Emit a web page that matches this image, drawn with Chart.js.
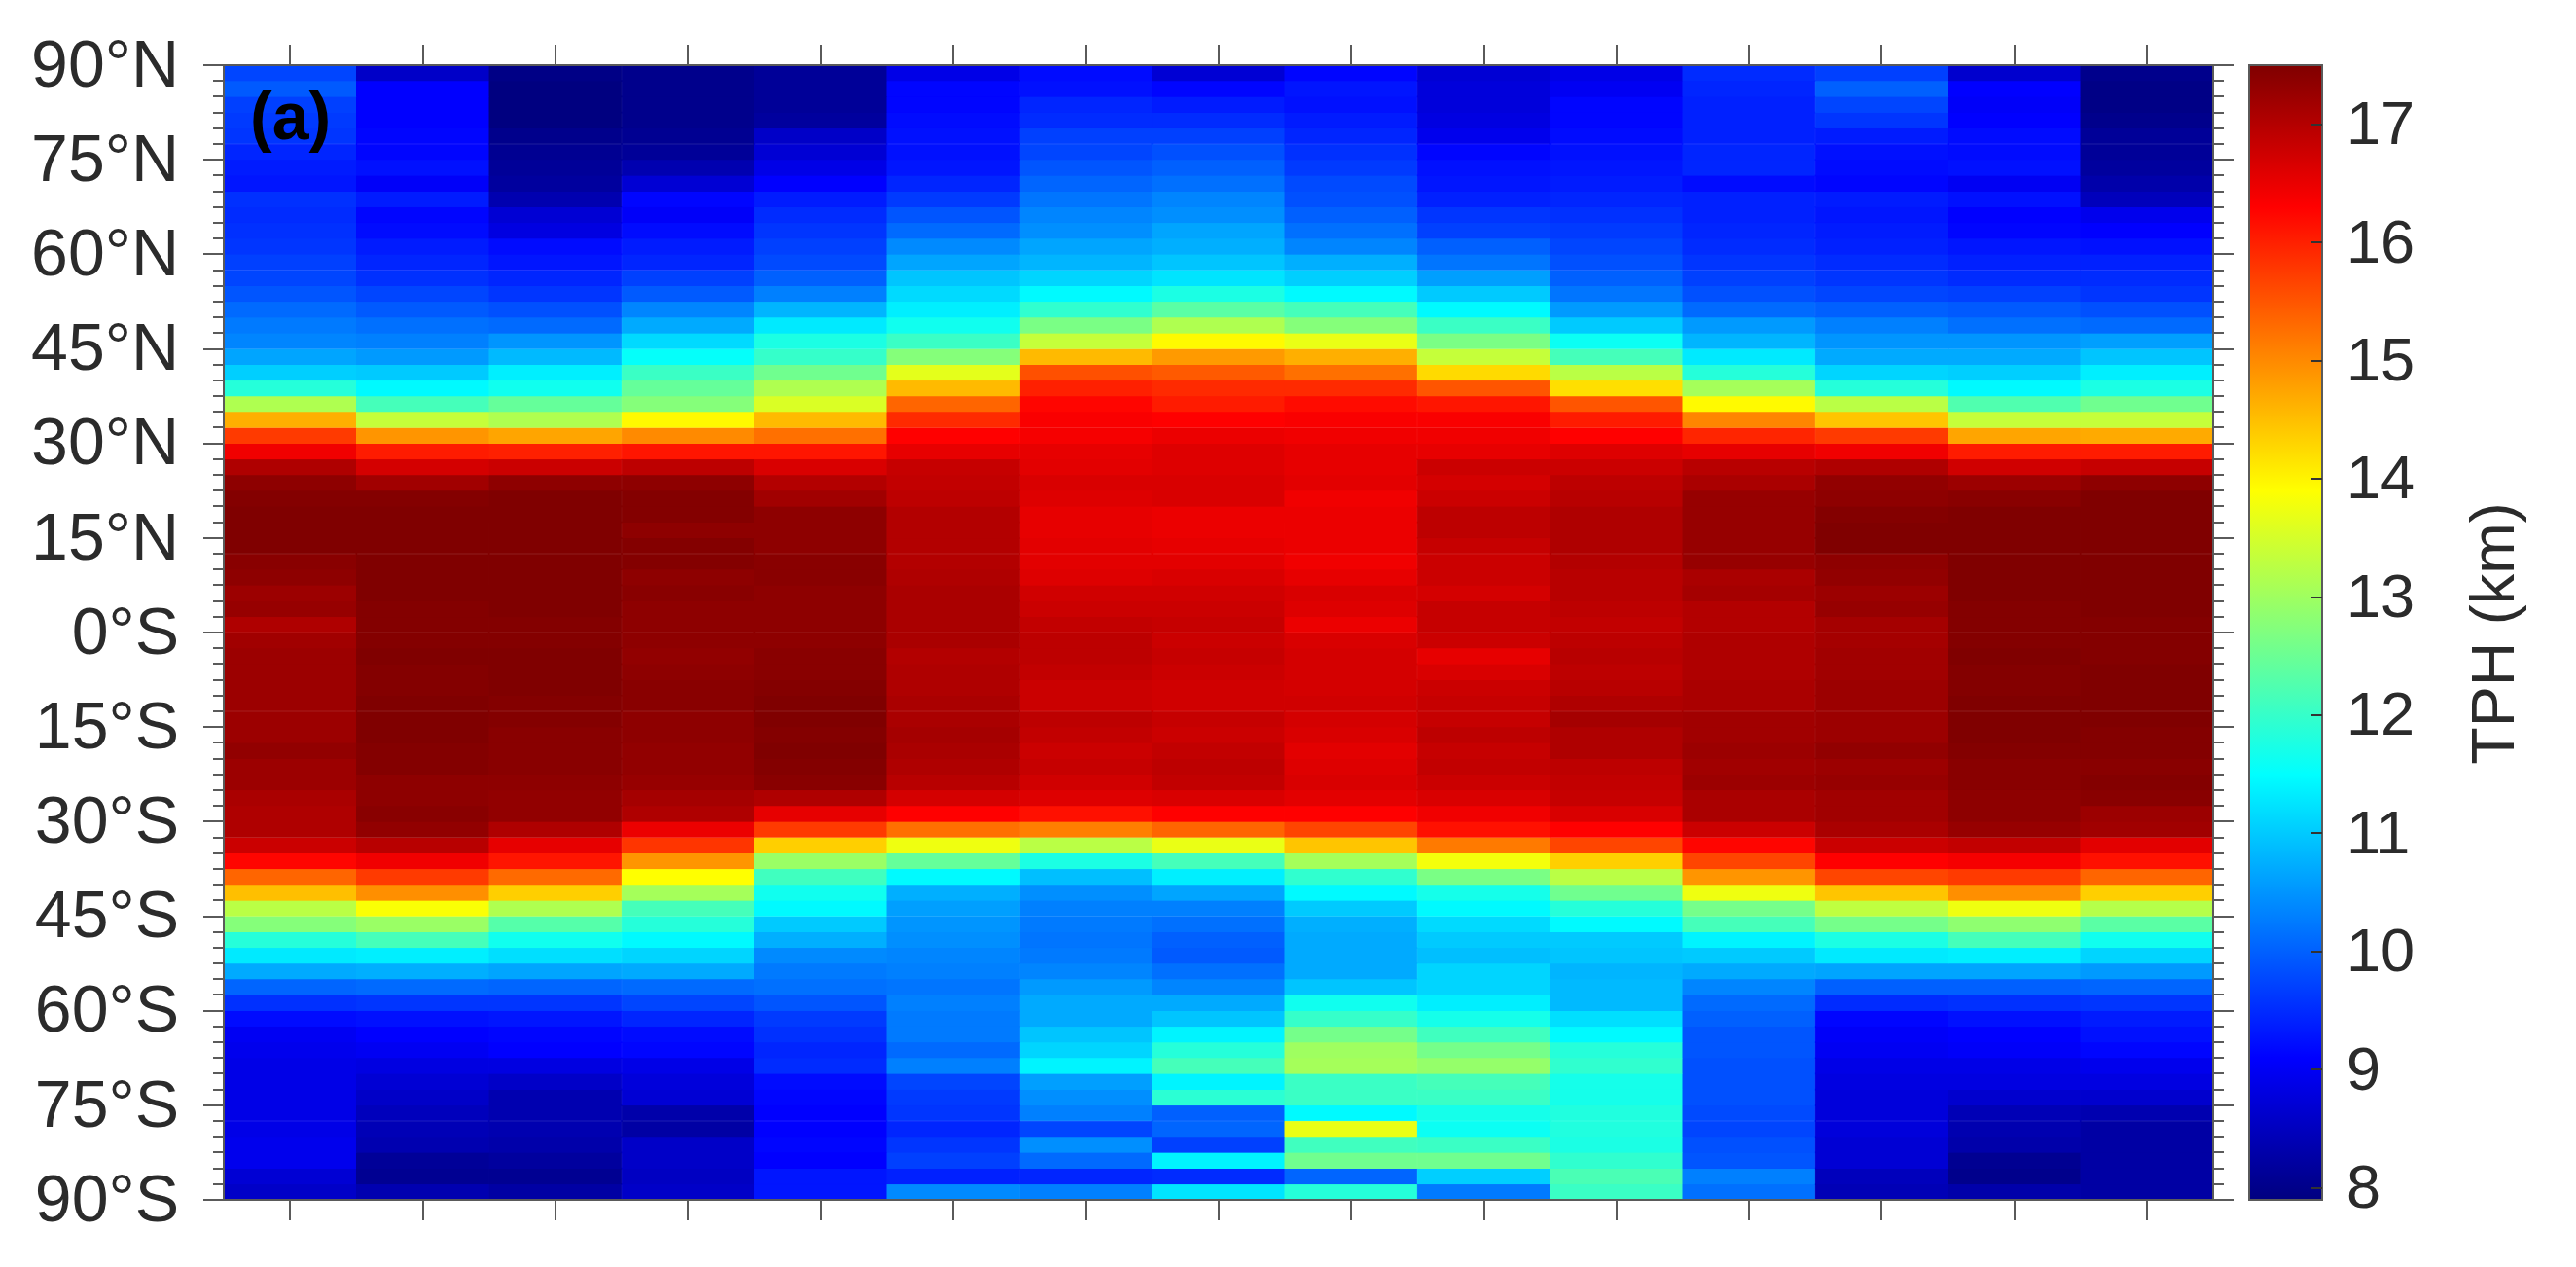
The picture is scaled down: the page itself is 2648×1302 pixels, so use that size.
<!DOCTYPE html>
<html>
<head>
<meta charset="utf-8">
<style>
  html, body { margin: 0; background: #fff; }
  canvas { position: absolute; left: 0; top: 0; filter: blur(0.7px); }
</style>
<script src="https://cdn.jsdelivr.net/npm/chart.js@4"></script>
</head>
<body>
<canvas id="map" width="2648" height="1302"></canvas>
<canvas id="bar" width="2648" height="1302"></canvas>
<script>
const columns = ['1','2','3','4','5','6','7','8','9','10','11','12','13','14','15'];
const latTicks = [-90,-75,-60,-45,-30,-15,0,15,30,45,60,75,90];
const latLabels = ['90°S','75°S','60°S','45°S','30°S','15°S','0°S','15°N','30°N','45°N','60°N','75°N','90°N'];
const colorTicks = [8,9,10,11,12,13,14,15,16,17];
const colorTitle = 'TPH (km)';
const panelLabel = '(a)';
const colorMin = 7.9;
const colorMax = 17.5;

// tropopause height per column, rows from 90N down to 90S (2.5 deg each)
const col01 = [9.6,9.8,9.55,9.5,9.45,9.3,9.2,9.15,9.4,9.35,9.4,9.45,9.55,9.6,9.75,9.95,10.1,10.2,10.5,10.9,11.7,13,14.5,15.6,16.3,17,17.35,17.45,17.5,17.5,17.5,17.4,17.35,17.2,17.25,17,17.15,17.2,17.2,17.2,17.2,17.2,17.2,17.3,17.2,17.2,17.05,17,17,16.7,16.1,15.2,14.35,13.1,12.6,11.7,11.15,10.55,9.9,9.4,9.05,8.85,8.8,8.75,8.75,8.75,8.75,8.75,8.8,8.8,8.6,8.5];
const col02 = [8.5,8.95,8.95,8.95,9,9,9.1,8.9,9.2,9,9.05,9.2,9.3,9.4,9.6,9.8,10,10.15,10.4,10.85,11.3,12,13.2,14.75,15.9,16.6,17.15,17.45,17.5,17.5,17.5,17.5,17.5,17.5,17.45,17.45,17.45,17.5,17.45,17.45,17.5,17.5,17.5,17.45,17.45,17.35,17.35,17.4,17.3,16.9,16.3,15.6,14.8,13.7,12.8,12,11.2,10.6,9.95,9.45,9.1,8.95,8.85,8.7,8.6,8.5,8.4,8.35,8.3,8.1,8.05,8.3];
const col03 = [7.95,7.9,7.9,7.9,8,8.05,8.1,8.15,8.3,8.6,8.7,9.05,9.15,9.3,9.45,9.7,9.95,10.35,10.7,11.2,11.5,12.3,13,14.6,15.85,16.7,17.35,17.5,17.5,17.5,17.5,17.5,17.5,17.5,17.5,17.45,17.45,17.5,17.5,17.5,17.45,17.45,17.4,17.4,17.4,17.35,17.3,17.3,17,16.4,15.95,15.15,14.2,13,12.15,11.5,11.05,10.5,9.9,9.45,9.15,9,8.95,8.7,8.5,8.3,8.3,8.3,8.25,8.15,8.05,8.2];
const col04 = [8,8,8,8,8.05,8.1,8.3,8.6,9,8.9,9.05,9.2,9.3,9.55,9.8,10.2,10.55,11,11.4,11.9,12.3,12.6,13.8,14.85,15.95,16.85,17.35,17.45,17.45,17.35,17.45,17.45,17.35,17.4,17.35,17.35,17.35,17.3,17.35,17.4,17.4,17.35,17.35,17.3,17.3,17.25,17.1,17,16.35,15.65,14.75,13.75,12.9,12,11.7,11.3,10.95,10.55,9.95,9.6,9.3,9.05,9,8.75,8.65,8.6,8.25,8.2,8.5,8.5,8.45,8.5];
const col05 = [8.1,8.1,8.1,8.15,8.5,8.6,8.75,8.95,9.2,9.35,9.45,9.55,9.65,9.85,10.15,10.65,11.15,11.6,11.85,12.4,13,13.4,14.4,15.1,15.95,16.55,16.95,17.15,17.35,17.35,17.35,17.4,17.4,17.35,17.35,17.35,17.35,17.4,17.4,17.45,17.5,17.5,17.45,17.5,17.45,17.4,17,16.4,15.6,14.2,12.8,11.95,11.5,11.3,10.85,10.6,10.25,10.1,10,9.75,9.5,9.4,9.3,9.35,9.05,9,8.95,8.95,9,8.95,9.15,9.15];
const col06 = [8.75,9,9,9.05,9.1,9.1,9.15,9.3,9.5,9.75,9.95,10.25,10.5,10.8,11,11.2,11.5,11.9,12.6,13.5,14.4,15.2,15.75,16.15,16.4,16.75,16.8,16.85,16.95,16.95,16.95,16.95,17,17.05,17.05,17.05,17.05,16.95,17,17,17.05,17.05,17.1,17.05,17,16.9,16.6,16.15,15.1,13.6,12.3,11.3,10.6,10.45,10.35,10.3,10.2,10.15,10.05,10.15,10.1,10.1,9.95,10.15,9.6,9.5,9.45,9.3,9.45,9.55,9.25,10.25];
const col07 = [9.05,9.1,9.3,9.35,9.55,9.6,9.75,9.9,10.05,10.2,10.3,10.5,10.65,10.95,11.3,11.8,12.5,13.2,14.4,15.4,15.85,16.1,16.2,16.25,16.4,16.45,16.55,16.5,16.4,16.4,16.45,16.45,16.5,16.65,16.7,16.8,16.85,16.85,16.8,16.7,16.7,16.85,16.8,16.7,16.75,16.65,16.5,16,14.95,13.1,11.6,10.75,10.3,10.15,10.1,10.05,10.1,10.2,10.4,10.55,10.55,10.8,10.95,11.25,10.45,10.3,10.15,9.6,10.3,9.95,9.3,10.15];
const col08 = [8.6,9,9.2,9.35,9.55,9.7,9.85,10,10.2,10.3,10.5,10.6,10.8,11.1,11.6,12.2,13,13.8,14.7,15.3,15.75,15.9,16.15,16.35,16.5,16.5,16.55,16.55,16.35,16.35,16.4,16.45,16.55,16.65,16.7,16.75,16.7,16.75,16.7,16.65,16.65,16.75,16.7,16.8,16.85,16.8,16.55,16.15,15.2,13.55,12,11.2,10.5,10.15,10,9.85,9.8,10,10.2,10.55,10.8,11.25,11.7,12,11.25,11.75,9.85,9.9,9.55,11.25,9.35,11.1];
const col09 = [9,9.15,9.1,9.2,9.3,9.4,9.5,9.65,9.7,9.85,10,10.2,10.6,10.9,11.3,12,12.6,13.55,14.5,15.1,15.75,16.05,16.2,16.3,16.4,16.4,16.45,16.3,16.35,16.35,16.35,16.3,16.4,16.55,16.5,16.35,16.55,16.6,16.6,16.6,16.65,16.6,16.55,16.45,16.5,16.55,16.45,16.15,15.5,14.3,12.9,11.8,11.3,10.85,10.6,10.55,10.55,10.55,10.8,11.5,11.85,12.45,12.85,12.9,11.9,11.9,11.3,13.55,11.95,12.4,9.9,11.7];
const col10 = [8.6,8.65,8.65,8.7,8.8,9,9.1,9.15,9.25,9.45,9.55,9.85,10.05,10.45,10.85,11.3,11.9,12.5,13.2,14.1,15.35,15.95,16.2,16.3,16.4,16.7,16.6,16.7,16.85,16.85,16.75,16.7,16.7,16.6,16.75,16.75,16.7,16.4,16.55,16.7,16.75,16.75,16.85,16.75,16.8,16.7,16.55,16.3,16,15,13.65,12.5,11.55,11.3,11,10.85,10.75,10.95,10.95,11.2,11.55,11.95,12.45,12.75,12,11.9,11.55,11.45,11.9,12.4,10.9,10.1];
const col11 = [8.75,8.85,9,9,9.05,9.1,9.15,9.2,9.3,9.4,9.5,9.6,9.7,9.85,10.05,10.4,10.85,11.45,12,13.1,14.05,15.35,15.9,16.15,16.5,16.7,16.85,16.9,17,17,17,16.95,16.9,16.9,16.85,16.8,16.85,16.9,16.85,16.9,17,17.1,17,17,16.85,16.8,16.75,16.55,16.15,15.5,14.2,13.1,12.4,11.7,11.3,10.85,10.8,10.65,10.7,10.7,11.05,11.3,11.7,11.8,11.55,11.55,11.65,11.65,11.6,11.8,12.05,11.9];
const col12 = [9.35,9.3,9.25,9.25,9.25,9.3,9.3,9.05,9.25,9.25,9.3,9.35,9.45,9.55,9.7,9.95,10.4,10.65,11.15,11.7,12.9,13.8,14.9,15.8,16.4,16.9,17.05,17.25,17.25,17.25,17.25,17.25,17.05,17.1,16.95,16.95,17,17,17,17.05,17.05,17.15,17.15,17.2,17.15,17.2,17.05,17.05,16.7,16.1,15.5,14.75,13.6,12.45,12,11.25,10.85,10.55,10.2,9.95,9.85,9.75,9.75,9.7,9.7,9.7,9.65,9.6,9.7,9.75,10.15,10];
const col13 = [9.55,9.85,9.6,9.45,9.2,9.1,9.05,9,9.2,9.15,9.2,9.25,9.35,9.45,9.6,9.85,10.15,10.35,10.55,10.95,11.7,13.1,14.3,15.6,16.3,17,17.3,17.35,17.45,17.5,17.5,17.35,17.3,17.2,17.25,17.1,17.1,17.15,17.15,17.2,17.2,17.2,17.2,17.3,17.2,17.25,17.15,17.15,17.05,16.7,16.15,15.5,14.3,13.15,12.45,11.6,11.15,10.5,9.85,9.35,9,8.9,8.85,8.75,8.7,8.65,8.65,8.65,8.6,8.6,8.4,8.35];
const col14 = [8.55,8.95,8.9,8.95,9.05,9.05,9.1,8.85,9.1,8.95,9,9.15,9.25,9.35,9.55,9.8,10,10.35,10.55,10.9,11.3,12.1,13.2,14.6,15.9,16.65,17.2,17.4,17.5,17.5,17.5,17.5,17.5,17.5,17.45,17.45,17.45,17.5,17.45,17.45,17.5,17.5,17.5,17.45,17.4,17.4,17.35,17.35,17.25,16.8,16.25,15.6,14.8,13.6,12.7,12,11.2,10.5,9.85,9.4,9.1,8.95,8.9,8.75,8.7,8.55,8.35,8.3,8.25,8.05,8,8.25];
const col15 = [8,7.95,7.95,8,8.1,8.1,8.15,8.25,8.4,8.8,8.95,9.1,9.25,9.35,9.45,9.7,9.95,10.45,10.8,11.2,11.6,12.4,13.2,14.55,15.9,16.75,17.35,17.5,17.5,17.5,17.5,17.5,17.5,17.5,17.5,17.45,17.45,17.45,17.5,17.5,17.5,17.5,17.45,17.45,17.4,17.45,17.4,17.2,17.15,16.45,16,15.2,14.2,13.05,12.2,11.5,10.95,10.4,9.9,9.45,9.2,9.1,9,8.8,8.7,8.55,8.3,8.2,8.2,8.2,8.2,8.2];

const tph = [col01,col02,col03,col04,col05,col06,col07,col08,col09,col10,col11,col12,col13,col14,col15];
const rowStep = 2.5;
const tickGrey = '#5a5a5a';
const textGrey = '#2b2b2b';
const labelFont = 'Liberation Sans, Arial, sans-serif';

const clamp = (x, lo, hi) => Math.max(lo, Math.min(hi, x));

function jet(t) {
  const r = clamp(Math.min(4 * t - 1.5, -4 * t + 4.5), 0, 1);
  const g = clamp(Math.min(4 * t - 0.5, -4 * t + 3.5), 0, 1);
  const b = clamp(Math.min(4 * t + 0.5, -4 * t + 2.5), 0, 1);
  return `rgb(${Math.round(r * 255)},${Math.round(g * 255)},${Math.round(b * 255)})`;
}

// cell values were read by eye against these anchors, so go through them for the colour
function cellColor(v) {
  if (v <= 8.95) return jet(0.125 * (v - colorMin) / (8.95 - colorMin));
  if (v <= 16.15) return jet(0.125 + 0.75 * (v - 8.95) / (16.15 - 8.95));
  return jet(0.875 + 0.125 * (v - 16.15) / (colorMax - 16.15));
}

const rowDatasets = col01.map((_, r) => {
  const top = 90 - r * rowStep;
  const colors = tph.map(c => cellColor(c[r]));
  return {
    data: columns.map(() => [top - rowStep, top]),
    backgroundColor: colors,
    borderColor: colors,
    borderWidth: 0.5,
    borderSkipped: false,
    grouped: false,
    barPercentage: 1,
    categoryPercentage: 1
  };
});

// short ticks matlab draws on the other sides, plus the box and panel letter
const mapFurniture = {
  id: 'mapFurniture',
  afterDraw(chart) {
    const { ctx, chartArea: a, scales: { x, y } } = chart;
    ctx.save();
    ctx.strokeStyle = tickGrey;
    ctx.lineWidth = 2;
    ctx.beginPath();
    for (let lat = -90; lat <= 90; lat += rowStep) {
      const py = Math.round(y.getPixelForValue(lat));
      const major = lat % 15 === 0;
      if (!major) { ctx.moveTo(a.left - 11, py); ctx.lineTo(a.left, py); }
      ctx.moveTo(a.right, py);
      ctx.lineTo(a.right + (major ? 21 : 11), py);
    }
    columns.forEach((_, i) => {
      const px = Math.round(x.getPixelForTick(i));
      ctx.moveTo(px, a.top);
      ctx.lineTo(px, a.top - 21);
    });
    ctx.stroke();
    ctx.strokeRect(a.left, a.top, a.right - a.left, a.bottom - a.top);
    ctx.fillStyle = '#000';
    ctx.font = 'bold 68px ' + labelFont;
    ctx.textAlign = 'left';
    ctx.textBaseline = 'alphabetic';
    ctx.fillText(panelLabel, a.left + 27, a.top + 76);
    ctx.restore();
  }
};

new Chart(document.getElementById('map'), {
  type: 'bar',
  data: { labels: columns, datasets: rowDatasets },
  plugins: [mapFurniture],
  options: {
    responsive: false,
    animation: false,
    layout: { padding: { top: 67, right: 373, left: 0, bottom: 0 } },
    plugins: { legend: { display: false }, tooltip: { enabled: false } },
    scales: {
      x: {
        grid: { drawOnChartArea: false, offset: false, tickLength: 21, lineWidth: 0, tickWidth: 2, tickColor: tickGrey },
        border: { display: false },
        ticks: { display: false },
        afterFit(s) { s.height = 69; }
      },
      y: {
        min: -90,
        max: 90,
        // lineWidth 0: a grid line width makes the bars ending on y=0 start a pixel short
        grid: { drawOnChartArea: false, tickLength: 21, lineWidth: 0, tickWidth: 2, tickColor: tickGrey },
        border: { display: false },
        afterBuildTicks(s) { s.ticks = latTicks.map(value => ({ value })); },
        afterFit(s) { s.width = 230; },
        ticks: {
          padding: 25,
          labelOffset: 3,
          color: textGrey,
          font: { family: labelFont, size: 68 },
          callback: v => latLabels[latTicks.indexOf(v)]
        }
      }
    }
  }
});

const barFurniture = {
  id: 'barFurniture',
  afterDraw(chart) {
    const { ctx, chartArea: a, scales: { y } } = chart;
    ctx.save();
    ctx.strokeStyle = tickGrey;
    ctx.lineWidth = 2;
    ctx.strokeRect(a.left, a.top, a.right - a.left, a.bottom - a.top);
    ctx.strokeStyle = '#333';
    ctx.beginPath();
    colorTicks.forEach(v => {
      const py = Math.round(y.getPixelForValue(v));
      ctx.moveTo(a.right - 11, py);
      ctx.lineTo(a.right, py);
    });
    ctx.stroke();
    ctx.translate(2567, (a.top + a.bottom) / 2 + 1);
    ctx.rotate(-Math.PI / 2);
    ctx.fillStyle = textGrey;
    ctx.font = '63px ' + labelFont;
    ctx.textAlign = 'center';
    ctx.textBaseline = 'middle';
    ctx.fillText(colorTitle, 0, 0);
    ctx.restore();
  }
};

function jetGradient(ctx) {
  const { chart } = ctx;
  if (!chart.chartArea) return '#000';
  const y = chart.scales.y;
  const g = chart.ctx.createLinearGradient(0, y.getPixelForValue(colorMin), 0, y.getPixelForValue(colorMax));
  for (let i = 0; i <= 64; i++) g.addColorStop(i / 64, jet(i / 64));
  return g;
}

new Chart(document.getElementById('bar'), {
  type: 'bar',
  data: {
    labels: [colorTitle],
    datasets: [{
      data: [[colorMin, colorMax]],
      backgroundColor: jetGradient,
      barPercentage: 1,
      categoryPercentage: 1
    }]
  },
  plugins: [barFurniture],
  options: {
    responsive: false,
    animation: false,
    layout: { padding: { top: 67, left: 2312, right: 0, bottom: 69 } },
    plugins: { legend: { display: false }, tooltip: { enabled: false } },
    scales: {
      x: { display: false },
      y: {
        position: 'right',
        min: colorMin,
        max: colorMax,
        grid: { display: false, drawTicks: false },
        border: { display: false },
        afterBuildTicks(s) { s.ticks = colorTicks.map(value => ({ value })); },
        afterFit(s) { s.width = 261; },
        ticks: {
          padding: 25,
          labelOffset: 3,
          color: textGrey,
          font: { family: labelFont, size: 63 }
        }
      }
    }
  }
});
</script>
</body>
</html>
